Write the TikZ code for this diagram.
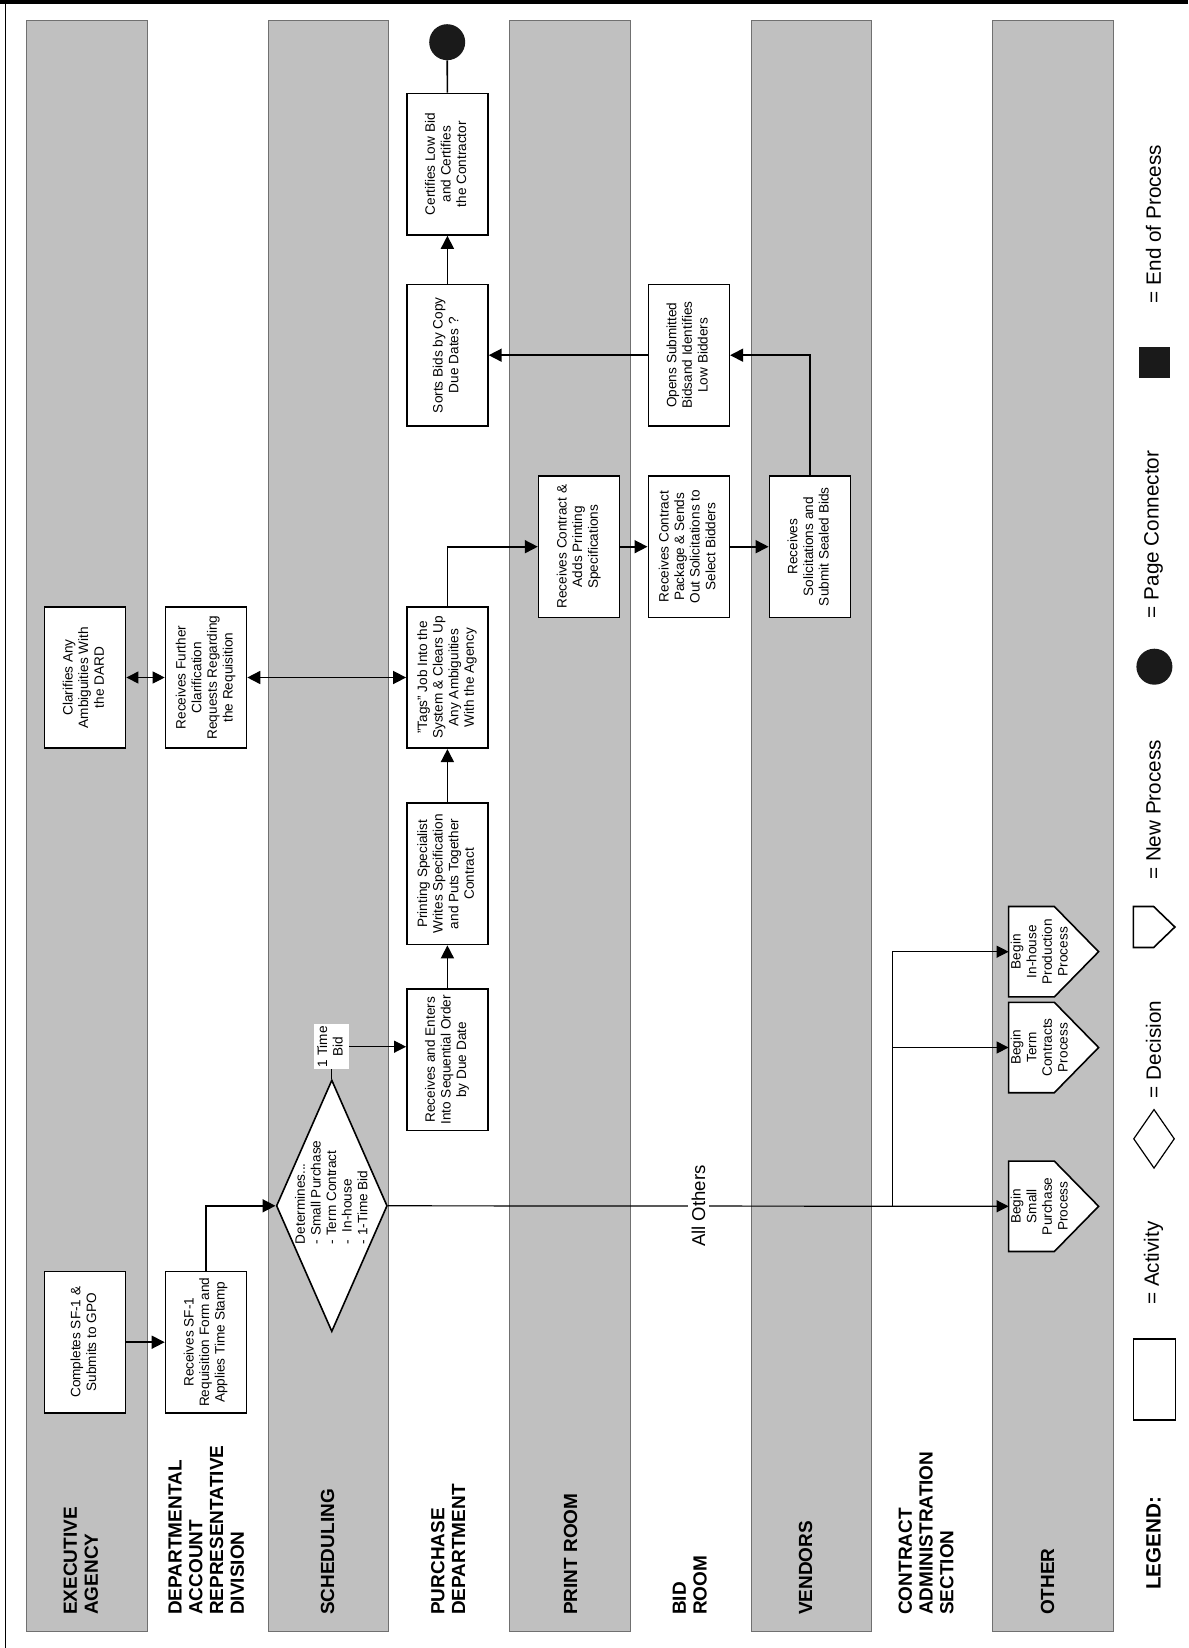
\documentclass[tikz,border=0pt]{standalone}
\usepackage{fontspec}
\setmainfont{Liberation Sans}
\usetikzlibrary{arrows.meta,shapes.geometric,calc}
\definecolor{lanegray}{HTML}{C0C0C0}
\definecolor{laneedge}{HTML}{707070}
\definecolor{ink}{HTML}{1A1A1A}
\newcommand{\rtxt}[2][c]{\rotatebox{90}{\begin{tabular}{@{}#1@{}}#2\end{tabular}}}
\newcommand{\newproc}[4]{%
  \node[inner sep=0pt, minimum width=89.6pt, minimum height=90pt] (#1) at (#2,#3) {};
  \draw[line width=1.6pt, fill=white] (#1.south west) -- (#1.north west) -- ++(45.7,0) -- (#1.east) -- ($(#1.south west)+(45.7,0)$) -- cycle;
  \node[boxfont, inner sep=0pt] (#1t) at ($(#1.west)+(32.4,0)$) {\rtxt{#4}};
}
\tikzset{
  boxfont/.style={font=\fontsize{13.6}{15.6}\selectfont},
  box/.style={boxfont, draw=black, line width=1.6pt, fill=white, minimum width=81pt, minimum height=141.5pt, inner sep=0pt},
  lanebox/.style={fill=lanegray, draw=laneedge, line width=0.9pt},
  lanelabel/.style={anchor=south, inner sep=0pt, font=\bfseries\fontsize{19}{20.8}\selectfont},
  legtext/.style={anchor=south, inner sep=0pt, font=\fontsize{20.7}{24}\selectfont},
  arr/.style={line width=1.6pt, -{Triangle[length=13pt,width=13pt]}},
  thinarr/.style={line width=1pt, -{Triangle[length=12pt,width=12pt]}},
  tlabel/.style={boxfont, fill=white, inner sep=2pt},
}
\begin{document}
\begin{tikzpicture}[x=1pt,y=-1pt]
\useasboundingbox (0,0) rectangle (1188,1648);
% frame
\fill[black] (0,0) rectangle (1188,4.3);
\draw[line width=1.5pt] (5.7,0) -- (5.7,1648);
% lanes
\foreach \k in {0,2,4,6,8}{
  \draw[lanebox] (26.8+120.7*\k,20) rectangle (147.5+120.7*\k,1631.7);
}
% lane labels
\node[lanelabel] (lEA) at (83.2,1615) {\rtxt[l]{EXECUTIVE\\AGENCY}};
\node[lanelabel] (lDARD) at (208.6,1615) {\rtxt[l]{DEPARTMENTAL\\ACCOUNT\\REPRESENTATIVE\\DIVISION}};
\node[lanelabel] (lSCH) at (330,1615) {\rtxt[l]{SCHEDULING}};
\node[lanelabel] (lPD) at (450.6,1615) {\rtxt[l]{PURCHASE\\DEPARTMENT}};
\node[lanelabel] (lPR) at (573,1615) {\rtxt[l]{PRINT ROOM}};
\node[lanelabel] (lBR) at (692,1615) {\rtxt[l]{BID\\ROOM}};
\node[lanelabel] (lV) at (808,1615) {\rtxt[l]{VENDORS}};
\node[lanelabel] (lCA) at (928.5,1615) {\rtxt[l]{CONTRACT\\ADMINISTRATION\\SECTION}};
\node[lanelabel] (lO) at (1050,1615) {\rtxt[l]{OTHER}};
% activity boxes
\node[box] (b1) at (85.1,1342.2) {\rtxt{Completes SF-1 \&\\Submits to GPO}};
\node[box] (b2) at (206,1342.2) {\rtxt{Receives SF-1\\Requisition Form and\\Applies Time Stamp}};
\node[box] (b3) at (85.1,677.5) {\rtxt{Clarifies Any\\Ambiguities With\\the DARD}};
\node[box] (b4) at (206,677.5) {\rtxt{Receives Further\\Clarification\\Requests Regarding\\the Requisition}};
\node[box] (b6) at (447.4,677.5) {\rtxt{"Tags" Job Into the\\System \& Clears Up\\Any Ambiguities\\With the Agency}};
\node[box] (b5) at (447.4,873.8) {\rtxt{Printing Specialist\\Writes Specification\\and Puts Together\\Contract}};
\node[box] (b7) at (447.4,1059.8) {\rtxt{Receives and Enters\\Into Sequential Order\\by Due Date}};
\node[box] (b8) at (579.1,546.7) {\rtxt{Receives Contract \&\\Adds Printing\\Specifications}};
\node[box] (b9) at (688.8,546.7) {\rtxt{Receives Contract\\Package \& Sends\\Out Solicitations to\\Select Bidders}};
\node[box] (b10) at (809.9,546.7) {\rtxt{Receives\\Solicitations and\\Submit Sealed Bids}};
\node[box] (b11) at (688.8,355.2) {\rtxt{Opens Submitted\\Bidsand Identifies\\Low Bidders}};
\node[box] (b12) at (447.4,355.2) {\rtxt{Sorts Bids by Copy\\Due Dates ?}};
\node[box] (b13) at (447.4,164.2) {\rtxt{Certifies Low Bid\\and Certifies\\the Contractor}};
% decision
\node[diamond, draw=black, fill=white, line width=1.6pt, minimum width=111pt, minimum height=251.7pt, inner sep=0pt] (dia) at (331.8,1205.8) {};
\node[boxfont, anchor=south, inner sep=0pt] (diatext) at (333,1244.3) {\rtxt[l]{Determines...\\- Small Purchase\\- Term Contract\\-\ \ In-house\\- 1-Time Bid}};
% page connector
\node[circle, fill=ink, minimum size=36pt, inner sep=0pt] (pc) at (447.2,42.2) {};
% new processes
\newproc{np1}{1053.6}{1206.3}{Begin\\Small\\Purchase\\Process}
\newproc{np2}{1053.6}{1047.5}{Begin\\Term\\Contracts\\Process}
\newproc{np3}{1053.6}{951.7}{Begin\\In-house\\Production\\Process}
% connectors
\draw[arr] (b1.east) -- (b2.west);
\draw[arr] (b2.north) |- (dia.west);
\draw[line width=1pt, {Triangle[length=12pt,width=12pt]}-{Triangle[length=12pt,width=12pt]}] (b3.east) -- (b4.west);
\draw[line width=1.6pt, {Triangle[length=13pt,width=13pt]}-{Triangle[length=13pt,width=13pt]}] (b4.east) -- (b6.west);
\draw[arr] (b7.north) -- (b5.south);
\draw[arr] (b5.north) -- (b6.south);
\draw[arr] (b6.north) |- (b8.west);
\draw[arr] (b8.east) -- (b9.west);
\draw[arr] (b9.east) -- (b10.west);
\draw[arr] (b10.north) |- (b11.east);
\draw[arr] (b11.west) -- (b12.east);
\draw[arr] (b12.north) -- (b13.south);
\draw[line width=1.6pt] (b13.north) -- (pc.south);
\draw[thinarr] (dia.north) |- node[tlabel] (onetime) {\rtxt{1 Time\\Bid}} ($(b7.west)+(0,-13.1)$);
\coordinate (br) at (892.4,1206.3);
\draw[line width=1.2pt, -{Triangle[length=12pt,width=12pt]}] (dia.east) -- node[fill=white, inner sep=4pt, font=\fontsize{18.6}{20}\selectfont] (others) {\rotatebox{90}{All Others}} (np1.west);
\draw[thinarr] (br) |- (np2.west);
\draw[thinarr] (br) |- (np3.west);
% legend
\node[legtext, font=\bfseries\fontsize{20.7}{24}\selectfont] (leg) at (1153.5,1590) {\rotatebox{90}{LEGEND:}};
\node[draw=black, line width=1.6pt, minimum width=42pt, minimum height=81pt, inner sep=0pt] (legact) at (1154.5,1379.5) {};
\node[legtext] (legacttxt) at (1153.5,1305) {\rotatebox{90}{= Activity}};
\node[diamond, draw=black, line width=1.2pt, minimum width=41pt, minimum height=59pt, inner sep=0pt] (legdec) at (1154,1138.8) {};
\node[legtext] (legdectxt) at (1153.5,1098.3) {\rotatebox{90}{= Decision}};
\node[inner sep=0pt, minimum width=41.2pt, minimum height=40.6pt] (legnp) at (1154.1,927) {};
\draw[line width=1.6pt] (legnp.south west) -- (legnp.north west) -- ++(20.3,0) -- (legnp.east) -- ($(legnp.south west)+(20.3,0)$) -- cycle;
\node[legtext] (legnptxt) at (1153.5,880) {\rotatebox{90}{= New Process}};
\node[circle, fill=ink, minimum size=36pt, inner sep=0pt] (legpc) at (1154.4,666.7) {};
\node[legtext] (legpctxt) at (1153.5,618.3) {\rotatebox{90}{= Page Connector}};
\node[fill=ink, minimum width=31pt, minimum height=31.6pt, inner sep=0pt] (legend) at (1154.5,362.5) {};
\node[legtext] (legendtxt) at (1153.5,303.3) {\rotatebox{90}{= End of Process}};
\end{tikzpicture}
\end{document}
